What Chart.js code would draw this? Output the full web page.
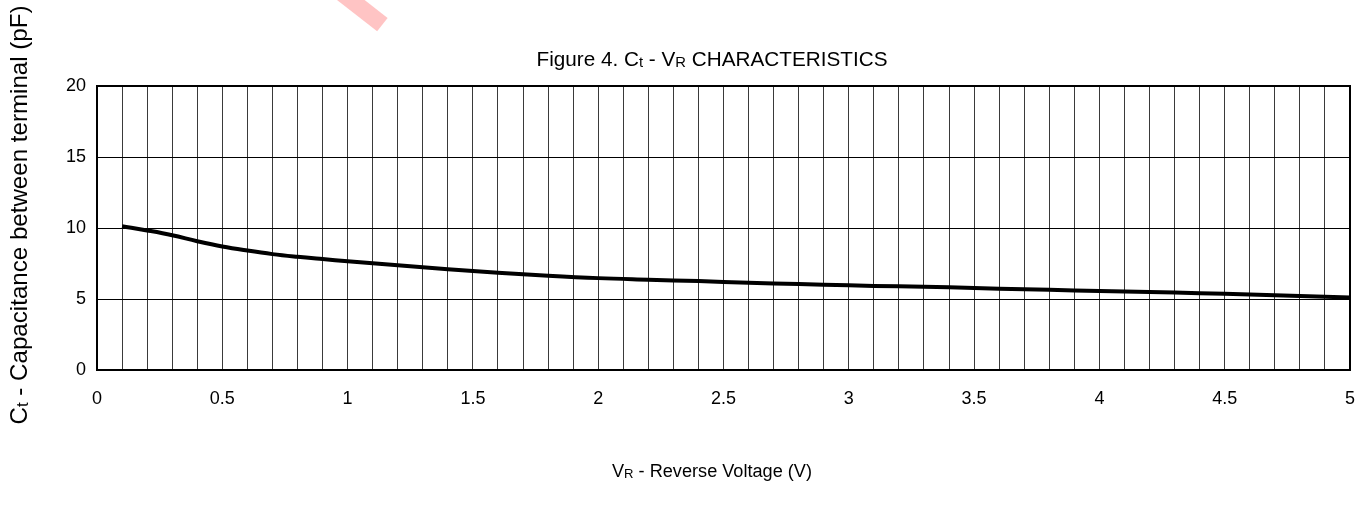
<!DOCTYPE html>
<html>
<head>
<meta charset="utf-8">
<title>Ct - VR characteristics</title>
<script src="https://cdn.jsdelivr.net/npm/chart.js@4.4.0/dist/chart.umd.min.js"></script>
<style>
    html, body { margin: 0; padding: 0; background: #fff; }
    #wrap { position: relative; width: 1358px; height: 508px; overflow: hidden; }
    #mark { position: absolute; left: 318px; top: -6px; width: 72px; height: 17px; background: #ffc4c4; transform: rotate(38deg); }
</style>
</head>
<body>
<div id="wrap">
    <canvas id="ctChart" width="1358" height="508"></canvas>
    <div id="mark"></div>
</div>
<script>
//################# Data #################
const voltage = [0.1, 0.2, 0.3, 0.4, 0.5, 0.6, 0.7, 0.8, 0.9, 1.0,
                 1.2, 1.4, 1.6, 1.8, 2.0, 2.2, 2.4, 2.6, 2.8, 3.0,
                 3.2, 3.4, 3.6, 3.8, 4.0, 4.2, 4.4, 4.6, 4.8, 5.0];
const capacitance = [10.13, 9.83, 9.49, 9.07, 8.70, 8.41, 8.16, 7.97, 7.81, 7.66,
                     7.38, 7.10, 6.85, 6.64, 6.47, 6.36, 6.26, 6.15, 6.05, 5.96,
                     5.89, 5.82, 5.73, 5.65, 5.56, 5.49, 5.41, 5.31, 5.21, 5.11];
const xLabelStep = 0.5;   // labelled every 0.5 V, grid every 0.1 V
const yTickStep = 5;

// text pieces: [text, isSubscript]
const titleParts = [['Figure 4. C', false], ['t', true], [' - V', false], ['R', true], [' CHARACTERISTICS', false]];
const xTitleParts = [['V', false], ['R', true], [' - Reverse Voltage (V)', false]];
const yTitleParts = [['C', false], ['t', true], [' - Capacitance between terminal (pF)', false]];

const FONT = '"Liberation Sans", Arial, sans-serif';

//################# Draw text with small subscript letters, stretched to a width #################
function drawRich(ctx, parts, cx, baseline, size, targetWidth) {
    const big = size + 'px ' + FONT;
    const small = Math.round(size * 0.7) + 'px ' + FONT;
    let total = 0;
    parts.forEach(([txt, sub]) => {
        ctx.font = sub ? small : big;
        total += ctx.measureText(txt).width;
    });
    const sx = targetWidth ? targetWidth / total : 1;
    ctx.save();
    ctx.translate(cx - (total * sx) / 2, baseline);
    ctx.scale(sx, 1);
    let x = 0;
    ctx.textAlign = 'left';
    ctx.textBaseline = 'alphabetic';
    ctx.fillStyle = '#000';
    parts.forEach(([txt, sub]) => {
        ctx.font = sub ? small : big;
        ctx.fillText(txt, x, sub ? 1 : 0);
        x += ctx.measureText(txt).width;
    });
    ctx.restore();
}

const frameAndTitles = {
    id: 'frameAndTitles',
    afterDraw(chart) {
        const ctx = chart.ctx;
        const a = chart.chartArea;
        ctx.save();
        ctx.strokeStyle = '#000';
        ctx.lineWidth = 2;
        ctx.strokeRect(a.left, a.top, a.right - a.left, a.bottom - a.top);

        drawRich(ctx, titleParts, 712, 66, 21, 351);
        drawRich(ctx, xTitleParts, 712, 477, 18, 200);

        ctx.translate(27, 215);
        ctx.rotate(-Math.PI / 2);
        drawRich(ctx, yTitleParts, 0, 0, 24, 419);
        ctx.restore();
    }
};

//################# Create the chart #################
const ctChart = new Chart(document.getElementById('ctChart'), {
    type: 'line',
    data: {
        datasets: [
            {
                label: 'Ct',
                data: voltage.map((v, i) => ({ x: v, y: capacitance[i] })),
                borderColor: '#000',
                borderWidth: 4,
                pointRadius: 0,
                fill: false,
                tension: 0.4,
            },
        ],
    },
    options: {
        responsive: false,
        animation: false,
        layout: { padding: { left: 0, top: 86, right: 8, bottom: 0 } },
        plugins: {
            legend: { display: false },
            tooltip: { enabled: false },
        },
        scales: {
            x: {
                type: 'linear',
                min: 0,
                max: 5,
                afterFit: (scale) => {
                    scale.height = 138;
                    scale.paddingLeft = 0;
                    scale.paddingRight = 0;
                },
                grid: { color: '#3a3a3a', lineWidth: 1, drawTicks: false },
                border: { display: true, color: '#000', width: 2 },
                ticks: {
                    stepSize: 0.1,
                    maxTicksLimit: 100,
                    autoSkip: false,
                    maxRotation: 0,
                    padding: 18,
                    color: '#000',
                    font: { family: FONT, size: 18 },
                    callback: (value) => {
                        const tenths = Math.round(value * 10);
                        return tenths % (xLabelStep * 10) === 0 ? String(tenths / 10) : '';
                    },
                },
            },
            y: {
                min: 0,
                max: 20,
                afterFit: (scale) => {
                    scale.width = 97;
                    scale.paddingTop = 0;
                    scale.paddingBottom = 0;
                },
                grid: { color: '#000', lineWidth: 1, drawTicks: false },
                border: { display: true, color: '#000', width: 2 },
                ticks: {
                    stepSize: yTickStep,
                    padding: 11,
                    color: '#000',
                    font: { family: FONT, size: 18 },
                },
            },
        },
    },
    plugins: [frameAndTitles],
});
</script>
</body>
</html>
